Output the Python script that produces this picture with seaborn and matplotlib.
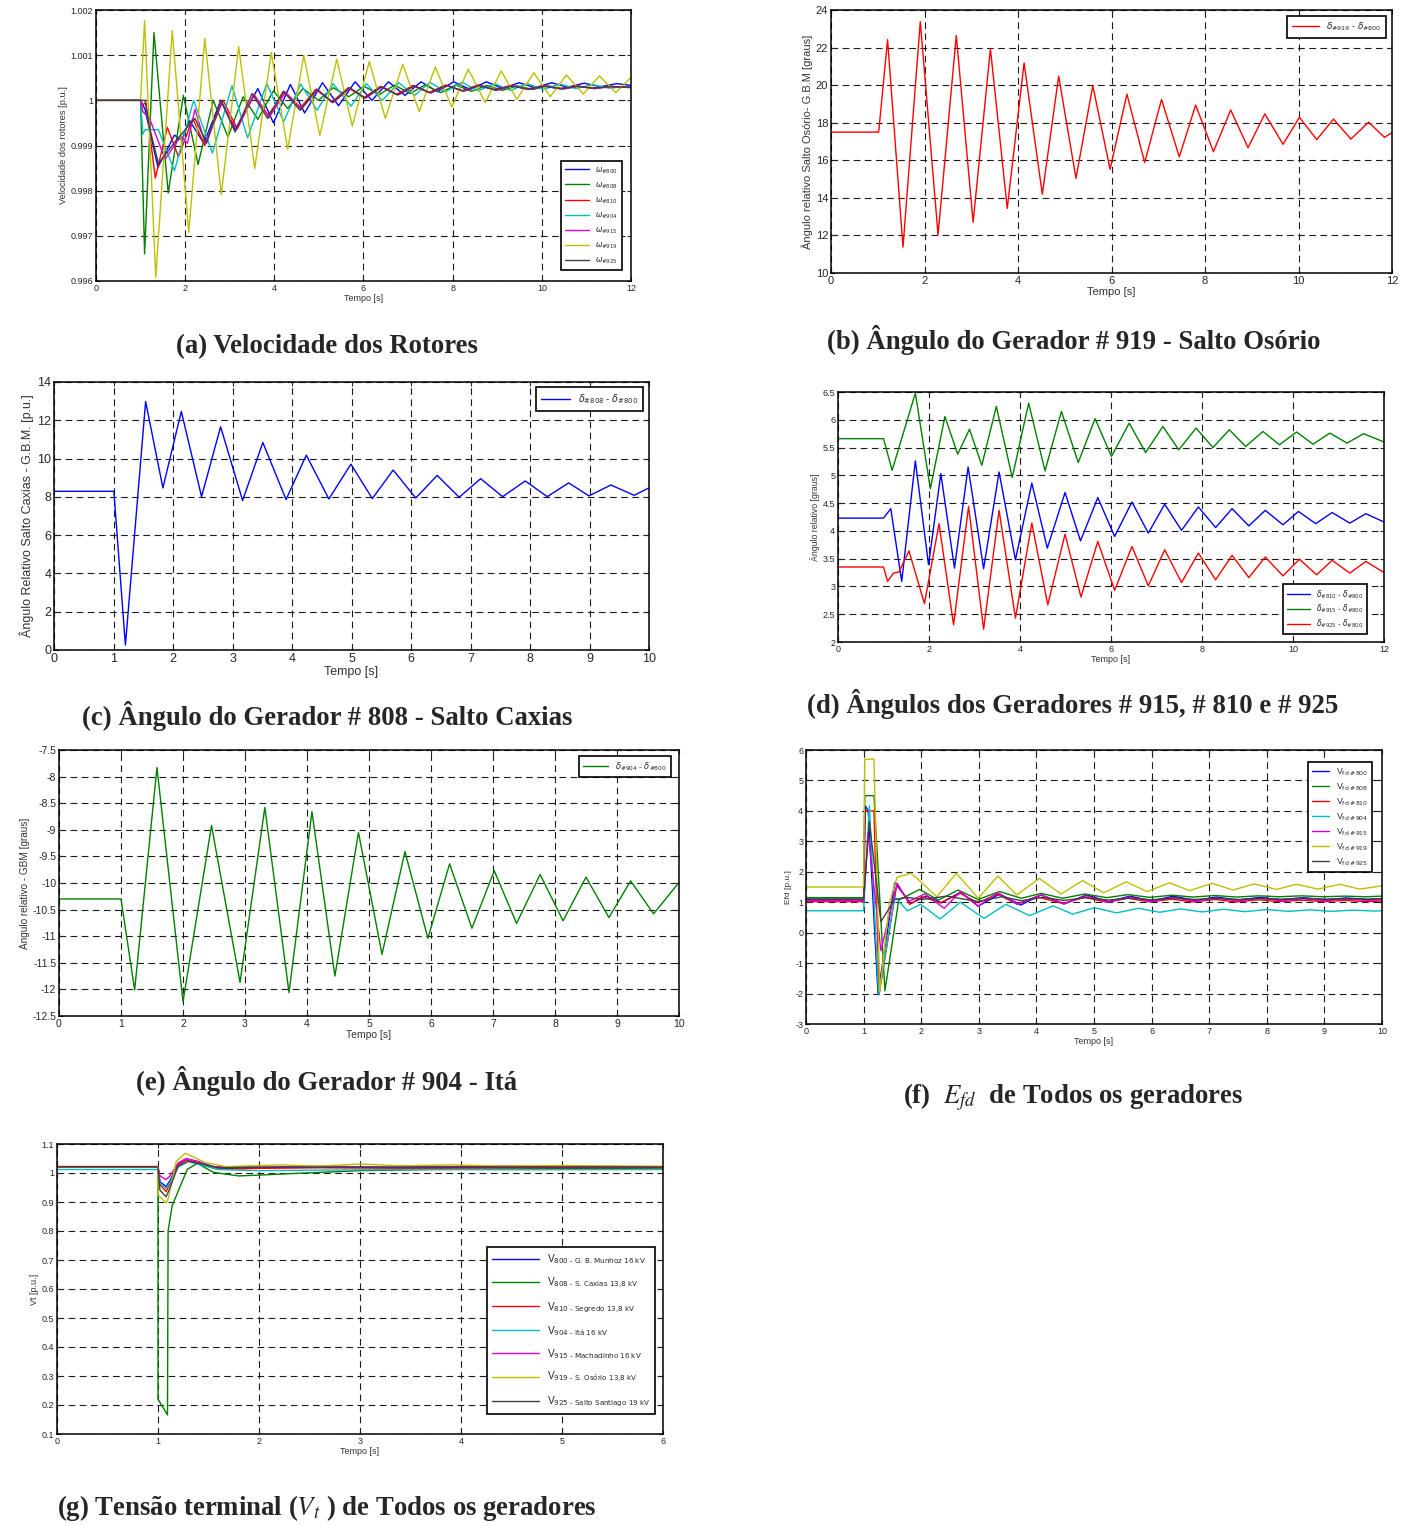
import numpy as np
import pandas as pd
import matplotlib
matplotlib.use('Agg')
import matplotlib.pyplot as plt
import seaborn as sns
from matplotlib.ticker import MultipleLocator, FuncFormatter

# ---------------- data: (time [s], value) ----------------
# (a) rotor speeds [p.u.]
a_800 = [(0, 1.0), (1.0, 1.0), (1.1, 0.9998), (1.39, 0.99852), (1.76, 0.99923), (1.92, 0.99912),
         (2.10, 0.99955), (2.42, 0.99905), (2.80, 1.0), (3.12, 0.99935), (3.63, 1.00026), (3.98, 0.9995),
         (4.36, 1.00035), (4.68, 0.99972), (5.08, 1.00039), (5.44, 0.99988), (5.81, 1.00041), (6.19, 1.0),
         (6.56, 1.00041), (6.93, 1.00011), (7.29, 1.00041), (7.66, 1.00019), (8.02, 1.00041), (8.39, 1.00024),
         (8.76, 1.00041), (9.12, 1.00026), (9.49, 1.00039), (9.85, 1.00028), (10.22, 1.00039), (10.58, 1.00029),
         (10.95, 1.00038), (11.31, 1.0003), (11.68, 1.00037), (12.0, 1.00033)]
a_808 = [(0, 1.0), (1.0, 1.0), (1.09, 0.9966), (1.30, 1.0015), (1.62, 0.99795), (1.96, 1.00011), (2.29, 0.99858),
         (2.63, 1.0), (2.96, 0.99919), (3.30, 1.00008), (3.63, 0.99958), (3.98, 1.00021), (4.30, 0.99982),
         (4.64, 1.00026), (4.99, 1.0), (5.32, 1.00028), (5.67, 1.00008), (6.01, 1.00031), (6.36, 1.00013),
         (6.70, 1.00034), (7.04, 1.00015), (7.38, 1.00034), (7.73, 1.00017), (8.07, 1.00034), (8.42, 1.0002),
         (8.76, 1.00033), (9.11, 1.00022), (9.45, 1.00032), (9.80, 1.00024), (10.14, 1.00032), (10.49, 1.00025),
         (10.83, 1.00031), (11.18, 1.00026), (11.52, 1.00031), (12.0, 1.00028)]
a_810 = [(0, 1.0), (1.0, 1.0), (1.05, 0.9999), (1.12, 0.99995), (1.33, 0.99828), (1.60, 0.9994), (1.85, 0.99875),
         (2.17, 0.9996), (2.44, 0.999), (2.85, 1.0), (3.17, 0.99937), (3.54, 1.00013), (3.86, 0.99967),
         (4.23, 1.00019), (4.59, 0.99984), (4.93, 1.00024), (5.30, 0.99997), (5.66, 1.00028), (6.01, 1.00006),
         (6.38, 1.00031), (6.74, 1.00013), (7.11, 1.00033), (7.47, 1.00017), (7.84, 1.00034), (8.21, 1.00021),
         (8.57, 1.00034), (8.94, 1.00023), (9.30, 1.00033), (9.67, 1.00025), (10.04, 1.00032), (10.40, 1.00026),
         (10.77, 1.00032), (11.13, 1.00027), (11.50, 1.00031), (12.0, 1.00029)]
a_904 = [(0, 1.0), (1.0, 1.0), (1.05, 0.99925), (1.10, 0.99935), (1.40, 0.99935), (1.76, 0.99844), (2.19, 1.0),
         (2.61, 0.99883), (3.05, 1.00032), (3.40, 0.99917), (3.83, 1.00037), (4.21, 0.99953), (4.59, 1.00036),
         (4.96, 0.99978), (5.32, 1.00037), (5.72, 0.99987), (6.06, 1.00037), (6.42, 1.0), (6.79, 1.00039),
         (7.15, 1.00011), (7.49, 1.0004), (7.84, 1.00019), (8.21, 1.0004), (8.57, 1.00021), (8.94, 1.00037),
         (9.30, 1.00022), (9.67, 1.00037), (10.04, 1.00024), (10.40, 1.00036), (10.77, 1.00026), (11.13, 1.00035),
         (11.50, 1.00027), (12.0, 1.00031)]
a_915 = [(0, 1.0), (1.0, 1.0), (1.05, 0.99975), (1.20, 0.9996), (1.55, 0.9987), (1.90, 0.9992), (2.05, 0.99905),
         (2.22, 0.9998), (2.45, 0.99905), (2.82, 0.99995), (3.15, 0.99935), (3.55, 1.00012), (3.88, 0.99962),
         (4.25, 1.00018), (4.60, 0.9998), (4.97, 1.00023), (5.32, 0.99995), (5.70, 1.00027), (6.05, 1.00005),
         (6.42, 1.0003), (6.78, 1.00012), (7.15, 1.00032), (7.51, 1.00016), (7.88, 1.00033), (8.25, 1.0002),
         (8.61, 1.00033), (8.98, 1.00022), (9.34, 1.00032), (9.71, 1.00024), (10.08, 1.00031), (10.44, 1.00025),
         (10.81, 1.00031), (11.17, 1.00026), (11.54, 1.0003), (12.0, 1.00029)]
a_919 = [(0, 1.0), (1.0, 1.0), (1.09, 1.00176), (1.34, 0.99608), (1.71, 1.00154), (2.08, 0.99708), (2.44, 1.00137),
         (2.81, 0.99791), (3.20, 1.00119), (3.56, 0.99849), (3.93, 1.00106), (4.30, 0.99892), (4.66, 1.00099),
         (5.02, 0.99922), (5.40, 1.00091), (5.75, 0.99943), (6.13, 1.00086), (6.49, 0.9996), (6.88, 1.0008),
         (7.25, 0.99975), (7.61, 1.00074), (7.98, 0.99985), (8.35, 1.00069), (8.73, 0.99995), (9.09, 1.00065),
         (9.44, 1.00002), (9.82, 1.00061), (10.19, 1.00008), (10.55, 1.00056), (10.93, 1.00014), (11.29, 1.00054),
         (11.66, 1.00017), (12.0, 1.00051)]
a_925 = [(0, 1.0), (1.0, 1.0), (1.10, 1.0), (1.20, 0.9994), (1.40, 0.9986), (1.75, 0.99905), (2.00, 0.99935),
         (2.22, 0.9996), (2.48, 0.99905), (2.80, 1.0), (3.12, 0.9993), (3.50, 1.00015), (3.85, 0.9996),
         (4.20, 1.0002), (4.58, 0.99978), (4.95, 1.00025), (5.30, 0.99995), (5.68, 1.00028), (6.03, 1.00005),
         (6.40, 1.0003), (6.76, 1.00012), (7.13, 1.00032), (7.49, 1.00017), (7.86, 1.00033), (8.23, 1.00021),
         (8.59, 1.00033), (8.96, 1.00023), (9.32, 1.00032), (9.69, 1.00025), (10.06, 1.00031), (10.42, 1.00026),
         (10.79, 1.00031), (11.15, 1.00027), (11.52, 1.0003), (12.0, 1.00029)]

# (b) delta 919 - delta 800 [graus]
b_919 = [(0, 17.5), (1.02, 17.5), (1.21, 22.42), (1.54, 11.38), (1.91, 23.38), (2.29, 12.03), (2.68, 22.64),
         (3.04, 12.70), (3.41, 21.94), (3.77, 13.44), (4.13, 21.18), (4.52, 14.19), (4.87, 20.48), (5.24, 15.04),
         (5.60, 19.97), (5.97, 15.52), (6.33, 19.52), (6.71, 15.88), (7.07, 19.24), (7.45, 16.18), (7.80, 18.94),
         (8.18, 16.46), (8.55, 18.68), (8.92, 16.67), (9.28, 18.47), (9.67, 16.85), (10.02, 18.29), (10.39, 17.10),
         (10.75, 18.19), (11.12, 17.13), (11.50, 18.03), (11.84, 17.22), (12.0, 17.48)]

# (c) delta 808 - delta 800
c_808 = [(0, 8.29), (1.006, 8.29), (1.20, 0.26), (1.54, 12.98), (1.83, 8.47), (2.14, 12.46), (2.48, 8.01),
         (2.80, 11.66), (3.17, 7.81), (3.51, 10.84), (3.90, 7.86), (4.24, 10.18), (4.62, 7.89), (4.99, 9.71),
         (5.35, 7.91), (5.70, 9.40), (6.08, 7.94), (6.44, 9.12), (6.81, 7.98), (7.17, 8.95), (7.54, 8.01),
         (7.92, 8.83), (8.29, 8.01), (8.65, 8.73), (8.99, 8.05), (9.36, 8.62), (9.75, 8.08), (10.0, 8.47)]

# (d) deltas 810, 915, 925 relative to 800
d_810 = [(0, 4.23), (1.0, 4.23), (1.16, 4.40), (1.40, 3.09), (1.70, 5.26), (1.99, 3.39), (2.26, 5.03), (2.56, 3.33),
         (2.86, 5.15), (3.20, 3.32), (3.54, 5.06), (3.90, 3.48), (4.26, 4.86), (4.60, 3.69), (4.99, 4.69),
         (5.33, 3.82), (5.71, 4.60), (6.08, 3.90), (6.46, 4.52), (6.82, 3.96), (7.18, 4.48), (7.55, 4.01),
         (7.92, 4.43), (8.30, 4.06), (8.66, 4.40), (9.03, 4.09), (9.39, 4.37), (9.78, 4.11), (10.12, 4.35),
         (10.50, 4.13), (10.86, 4.33), (11.25, 4.14), (11.60, 4.31), (12.0, 4.16)]
d_915 = [(0, 5.66), (1.0, 5.66), (1.19, 5.09), (1.70, 6.48), (2.03, 4.76), (2.35, 6.06), (2.63, 5.38), (2.89, 5.83),
         (3.16, 5.18), (3.48, 6.24), (3.83, 4.96), (4.19, 6.30), (4.55, 5.08), (4.91, 6.15), (5.28, 5.23),
         (5.65, 6.02), (6.01, 5.34), (6.40, 5.94), (6.76, 5.41), (7.14, 5.88), (7.49, 5.46), (7.87, 5.85),
         (8.24, 5.50), (8.60, 5.82), (8.96, 5.52), (9.34, 5.79), (9.70, 5.55), (10.08, 5.78), (10.44, 5.56),
         (10.81, 5.76), (11.19, 5.58), (11.55, 5.75), (12.0, 5.60)]
d_925 = [(0, 3.35), (1.0, 3.35), (1.09, 3.09), (1.22, 3.24), (1.34, 3.26), (1.56, 3.64), (1.90, 2.69), (2.22, 4.13),
         (2.54, 2.31), (2.87, 4.44), (3.20, 2.23), (3.54, 4.37), (3.90, 2.43), (4.26, 4.14), (4.61, 2.67),
         (4.99, 3.94), (5.34, 2.81), (5.71, 3.81), (6.08, 2.93), (6.46, 3.72), (6.82, 3.01), (7.18, 3.66),
         (7.55, 3.07), (7.92, 3.60), (8.30, 3.12), (8.66, 3.56), (9.03, 3.16), (9.39, 3.53), (9.78, 3.19),
         (10.14, 3.49), (10.52, 3.21), (10.86, 3.47), (11.25, 3.24), (11.60, 3.45), (12.0, 3.25)]

# (e) delta 904 - delta 800
e_904 = [(0, -10.3), (1.0, -10.3), (1.22, -12.01), (1.58, -7.83), (2.00, -12.23), (2.46, -8.92), (2.92, -11.87),
         (3.32, -8.58), (3.71, -12.06), (4.08, -8.66), (4.45, -11.75), (4.83, -9.05), (5.21, -11.34), (5.58, -9.41),
         (5.95, -11.04), (6.30, -9.64), (6.66, -10.85), (7.02, -9.77), (7.38, -10.76), (7.76, -9.84), (8.13, -10.71),
         (8.50, -9.89), (8.87, -10.65), (9.22, -9.96), (9.59, -10.58), (10.0, -9.99)]

# (f) field voltage Efd [p.u.]
f_800 = [(0, 1.10), (1.0, 1.10), (1.03, 4.16), (1.08, 4.0), (1.25, -2.0), (1.54, 1.64), (1.82, 0.96), (2.09, 1.20),
         (2.35, 0.98), (2.68, 1.33), (2.99, 0.87), (3.36, 1.27), (3.73, 0.91), (4.08, 1.24), (4.48, 0.94), (4.87, 1.24),
         (5.25, 1.02), (5.63, 1.20), (6.00, 1.04), (6.38, 1.20), (6.75, 1.06), (7.13, 1.17), (7.50, 1.07), (7.88, 1.16),
         (8.25, 1.08), (8.63, 1.15), (9.00, 1.08), (9.38, 1.14), (9.75, 1.09), (10.0, 1.12)]
f_808 = [(0, 1.15), (1.0, 1.15), (1.02, 4.5), (1.18, 4.5), (1.37, -1.91), (1.61, 1.07), (1.97, 1.42), (2.30, 1.07),
         (2.64, 1.40), (2.99, 1.09), (3.36, 1.35), (3.74, 1.13), (4.08, 1.29), (4.46, 1.13), (4.84, 1.27), (5.22, 1.15),
         (5.59, 1.25), (5.97, 1.16), (6.35, 1.23), (6.72, 1.17), (7.10, 1.22), (7.47, 1.17), (7.85, 1.21), (8.22, 1.18),
         (8.60, 1.21), (8.97, 1.18), (9.35, 1.20), (9.72, 1.18), (10.0, 1.20)]
f_810 = [(0, 1.02), (1.0, 1.02), (1.02, 4.0), (1.18, 4.0), (1.27, -2.02), (1.58, 1.62), (1.80, 0.93), (2.02, 1.18),
         (2.33, 0.98), (2.68, 1.29), (2.99, 0.98), (3.32, 1.27), (3.66, 0.94), (4.00, 1.18), (4.46, 0.96), (4.84, 1.16),
         (5.22, 1.00), (5.59, 1.13), (5.97, 1.01), (6.35, 1.10), (6.72, 1.01), (7.10, 1.09), (7.47, 1.01), (7.85, 1.08),
         (8.22, 1.02), (8.60, 1.07), (8.97, 1.02), (9.35, 1.06), (9.72, 1.02), (10.0, 1.04)]
f_904 = [(0, 0.72), (1.0, 0.72), (1.10, 4.17), (1.26, -2.05), (1.54, 1.18), (1.76, 0.72), (1.99, 0.93), (2.33, 0.45),
         (2.68, 1.00), (3.09, 0.47), (3.47, 0.93), (3.88, 0.56), (4.29, 0.88), (4.63, 0.61), (5.01, 0.82), (5.39, 0.65),
         (5.77, 0.80), (6.14, 0.67), (6.50, 0.78), (6.88, 0.68), (7.25, 0.77), (7.62, 0.69), (8.00, 0.76), (8.37, 0.70),
         (8.75, 0.75), (9.12, 0.70), (9.50, 0.74), (9.87, 0.71), (10.0, 0.72)]
f_915 = [(0, 1.05), (1.0, 1.05), (1.08, 3.28), (1.30, -0.59), (1.58, 1.62), (1.78, 1.02), (2.06, 1.27), (2.40, 0.80),
         (2.68, 1.35), (2.99, 0.87), (3.33, 1.31), (3.67, 0.93), (4.08, 1.24), (4.48, 0.96), (4.87, 1.21), (5.25, 1.00),
         (5.63, 1.17), (6.00, 1.02), (6.38, 1.15), (6.75, 1.03), (7.13, 1.13), (7.50, 1.04), (7.88, 1.12), (8.25, 1.05),
         (8.63, 1.11), (9.00, 1.05), (9.38, 1.10), (9.75, 1.06), (10.0, 1.08)]
f_919 = [(0, 1.5), (1.0, 1.5), (1.02, 5.7), (1.18, 5.7), (1.28, -1.94), (1.45, 1.0), (1.58, 1.82), (1.82, 1.95),
         (1.96, 1.73), (2.27, 1.18), (2.61, 1.95), (2.99, 1.13), (3.33, 1.86), (3.66, 1.24), (4.05, 1.78), (4.43, 1.27),
         (4.80, 1.71), (5.17, 1.31), (5.56, 1.67), (5.92, 1.35), (6.31, 1.64), (6.66, 1.38), (7.05, 1.62), (7.41, 1.40),
         (7.78, 1.60), (8.17, 1.42), (8.51, 1.59), (8.89, 1.43), (9.27, 1.59), (9.61, 1.43), (10.0, 1.54)]
f_925 = [(0, 1.10), (1.0, 1.10), (1.10, 3.65), (1.30, 0.36), (1.54, 1.09), (1.75, 1.16), (2.02, 1.09), (2.44, 1.20),
         (2.99, 1.02), (3.40, 1.18), (3.74, 1.05), (4.10, 1.16), (4.48, 1.06), (4.87, 1.15), (5.25, 1.07), (5.63, 1.14),
         (6.00, 1.08), (6.38, 1.14), (6.75, 1.09), (7.13, 1.13), (7.50, 1.09), (7.88, 1.13), (8.25, 1.10), (8.63, 1.13),
         (9.00, 1.10), (9.38, 1.12), (9.75, 1.10), (10.0, 1.12)]

# (g) terminal voltage Vt [p.u.]
g_800 = [(0, 1.02), (1.0, 1.02), (1.02, 0.97), (1.08, 0.953), (1.12, 0.975), (1.20, 1.03), (1.28, 1.045),
         (1.40, 1.035), (1.55, 1.018), (1.80, 1.015), (2.2, 1.02), (2.8, 1.022), (3.5, 1.018), (4.2, 1.02),
         (5.0, 1.018), (6.0, 1.019)]
g_808 = [(0, 1.02), (1.0, 1.02), (1.0, 0.22), (1.094, 0.166), (1.10, 0.80), (1.14, 0.887), (1.29, 1.013),
         (1.39, 1.033), (1.55, 1.002), (1.80, 0.99), (2.02, 0.993), (2.45, 1.0), (3.0, 1.008), (3.73, 1.012),
         (5.0, 1.015), (6.0, 1.017)]
g_810 = [(0, 1.02), (1.0, 1.02), (1.02, 0.96), (1.08, 0.936), (1.12, 0.965), (1.20, 1.03), (1.28, 1.045),
         (1.40, 1.035), (1.59, 1.013), (2.0, 1.016), (2.6, 1.018), (3.5, 1.016), (4.5, 1.018), (6.0, 1.018)]
g_904 = [(0, 1.012), (1.0, 1.012), (1.02, 0.965), (1.08, 0.947), (1.12, 0.97), (1.20, 1.02), (1.30, 1.04),
         (1.45, 1.025), (1.60, 1.012), (2.0, 1.008), (2.6, 1.01), (3.5, 1.012), (4.5, 1.011), (6.0, 1.012)]
g_915 = [(0, 1.022), (1.0, 1.022), (1.02, 0.99), (1.08, 0.977), (1.12, 0.99), (1.20, 1.035), (1.28, 1.05),
         (1.40, 1.04), (1.55, 1.022), (2.0, 1.02), (2.6, 1.024), (3.2, 1.02), (3.8, 1.022), (4.5, 1.024),
         (5.2, 1.022), (6.0, 1.022)]
g_919 = [(0, 1.022), (1.0, 1.022), (1.0, 0.924), (1.08, 0.897), (1.10, 0.91), (1.18, 1.04), (1.27, 1.068),
         (1.46, 1.037), (1.67, 1.022), (2.19, 1.028), (2.6, 1.024), (3.0, 1.031), (3.4, 1.025), (3.9, 1.028),
         (4.4, 1.024), (5.0, 1.026), (6.0, 1.023)]
g_925 = [(0, 1.022), (1.0, 1.022), (1.02, 0.94), (1.08, 0.918), (1.12, 0.95), (1.20, 1.025), (1.30, 1.04),
         (1.45, 1.03), (1.60, 1.018), (2.0, 1.02), (3.0, 1.02), (4.0, 1.021), (6.0, 1.021)]

gens = ['800', '808', '810', '904', '915', '919', '925']
g_names = ['G. B. Munhoz 16 kV', 'S. Caxias 13,8 kV', 'Segredo 13,8 kV', 'Itá 16 kV',
           'Machadinho 16 kV', 'S. Osório 13,8 kV', 'Salto Santiago 19 kV']

# MATLAB-ish colours
blue, green, red = (0, 0, 1), (0, 0.5, 0), (1, 0, 0)
cyan, mag, yel, dark = (0, 0.75, 0.75), (0.85, 0, 0.85), (0.75, 0.75, 0), (0.25, 0.25, 0.25)
gen_colors = [blue, green, red, cyan, mag, yel, dark]

# ---------------- style ----------------
sns.set_style('ticks')
plt.rcParams['font.family'] = ['Liberation Sans', 'DejaVu Sans']
plt.rcParams['mathtext.fontset'] = 'dejavusans'
plt.rcParams['xtick.direction'] = 'in'
plt.rcParams['ytick.direction'] = 'in'
plt.rcParams['xtick.top'] = True
plt.rcParams['ytick.right'] = True
plt.rcParams['axes.linewidth'] = 1.1
plt.rcParams['axes.edgecolor'] = 'black'

W, H = 1411, 1526
fig = plt.figure(figsize=(W / 100, H / 100), dpi=100)


def panel(l, t, r, b):
    return fig.add_axes([l / W, 1 - b / H, (r - l) / W, (b - t) / H])


def draw(ax, pts, color, label):
    arr = np.array(pts)
    df = pd.DataFrame({'t': arr[:, 0], 'v': arr[:, 1]})
    sns.lineplot(data=df, x='t', y='v', ax=ax, color=color, lw=1.0, label=label,
                 estimator=None, sort=False)


def finish(ax, xmax, xstep, ylo, yhi, ystep, fs, ylabel, yfs):
    ax.set_xlim(0, xmax)
    ax.set_ylim(ylo, yhi)
    ax.xaxis.set_major_locator(MultipleLocator(xstep))
    ax.yaxis.set_major_locator(MultipleLocator(ystep))
    fmt = FuncFormatter(lambda v, _: f'{v:g}')
    ax.xaxis.set_major_formatter(fmt)
    ax.yaxis.set_major_formatter(fmt)
    ax.tick_params(labelsize=fs, length=3, width=0.8, pad=2)
    ax.grid(True, color='0.1', ls=(0, (6, 4)), lw=0.8)
    ax.set_xlabel('Tempo [s]', fontsize=fs, labelpad=1, color='0.2')
    ax.set_ylabel(ylabel, fontsize=yfs, labelpad=2, color='0.2')


def legend(ax, loc, anchor, fs, spacing=0.5, hl=2.5):
    leg = ax.legend(loc=loc, bbox_to_anchor=anchor, borderaxespad=0, fontsize=fs,
                    fancybox=False, edgecolor='black', framealpha=1,
                    labelspacing=spacing, handlelength=hl, borderpad=0.5)
    leg.get_frame().set_linewidth(1.2)


def caption(x, y, s):
    fig.text(x / W, 1 - y / H, s, ha='center', va='center', fontsize=19.3, fontweight='bold',
             family='Liberation Serif', math_fontfamily='stix')


def dlabel(a, b):
    return r'$\delta_{\#%s}$ - $\delta_{\#%s}$' % (a, b)


# (a)
ax = panel(96, 10, 631, 281)
for g, pts, c in zip(gens, [a_800, a_808, a_810, a_904, a_915, a_919, a_925], gen_colors):
    draw(ax, pts, c, r'$\omega_{\#%s}$' % g)
finish(ax, 12, 2, 0.996, 1.002, 0.001, 6.5, 'Velocidade dos rotores [p.u.]', 6.7)
legend(ax, 'lower right', (0.983, 0.041), 5.5, spacing=0.6, hl=3.2)
caption(327, 347, '(a) Velocidade dos Rotores')

# (b)
ax = panel(831, 10, 1392, 273)
draw(ax, b_919, red, dlabel('919', '800'))
finish(ax, 12, 2, 10, 24, 2, 8, 'Ângulo relativo Salto Osório- G.B.M [graus]', 8)
legend(ax, 'upper right', (0.989, 0.977), 6.5, hl=3)
caption(1074, 340, '(b) Ângulo do Gerador # 919 - Salto Osório')

# (c)
ax = panel(54, 382, 649, 650)
draw(ax, c_808, blue, dlabel('808', '800'))
finish(ax, 10, 1, 0, 14, 2, 9, 'Ângulo Relativo Salto Caxias - G.B.M. [p.u.]', 9)
legend(ax, 'upper right', (0.990, 0.981), 7, hl=3)
caption(327, 716, '(c) Ângulo do Gerador # 808 - Salto Caxias')

# (d)
ax = panel(838, 392, 1384, 642)
draw(ax, d_810, blue, dlabel('810', '800'))
draw(ax, d_915, green, dlabel('915', '800'))
draw(ax, d_925, red, dlabel('925', '800'))
finish(ax, 12, 2, 2, 6.5, 0.5, 6.5, 'Ângulo relativo [graus]', 6.3)
legend(ax, 'lower right', (0.969, 0.032), 5.5, spacing=0.3, hl=3)
caption(1073, 704, '(d) Ângulos dos Geradores # 915, # 810 e # 925')

# (e)
ax = panel(59, 750, 679, 1016)
draw(ax, e_904, green, dlabel('904', '800'))
finish(ax, 10, 1, -12.5, -7.5, 0.5, 7.5, 'Angulo relativo - GBM [graus]', 7.2)
legend(ax, 'upper right', (0.987, 0.977), 6, hl=3)
caption(327, 1081, '(e) Ângulo do Gerador # 904 - Itá')

# (f)
ax = panel(806, 750, 1382, 1024)
for g, pts, c in zip(gens, [f_800, f_808, f_810, f_904, f_915, f_919, f_925], gen_colors):
    draw(ax, pts, c, r'V$_{\text{fd #%s}}$' % g)
finish(ax, 10, 1, -3, 6, 1, 6.5, 'Efd [p.u.]', 6)
legend(ax, 'upper right', (0.983, 0.956), 6.3, spacing=0.4, hl=1.9)
caption(1073, 1097, '(f)  $E_{fd}$  de Todos os geradores')

# (g)
ax = panel(57, 1144, 663, 1434)
for g, nm, pts, c in zip(gens, g_names, [g_800, g_808, g_810, g_904, g_915, g_919, g_925], gen_colors):
    draw(ax, pts, c, r'V$_{\text{%s - %s}}$' % (g, nm))
finish(ax, 6, 1, 0.1, 1.1, 0.1, 6.5, 'Vt [p.u.]', 6.5)
legend(ax, 'lower right', (0.987, 0.069), 7.3, spacing=0.92, hl=4.6)
caption(327, 1508, '(g) Tensão terminal ($V_t$ ) de Todos os geradores')

fig.savefig('out.png', dpi=100)
